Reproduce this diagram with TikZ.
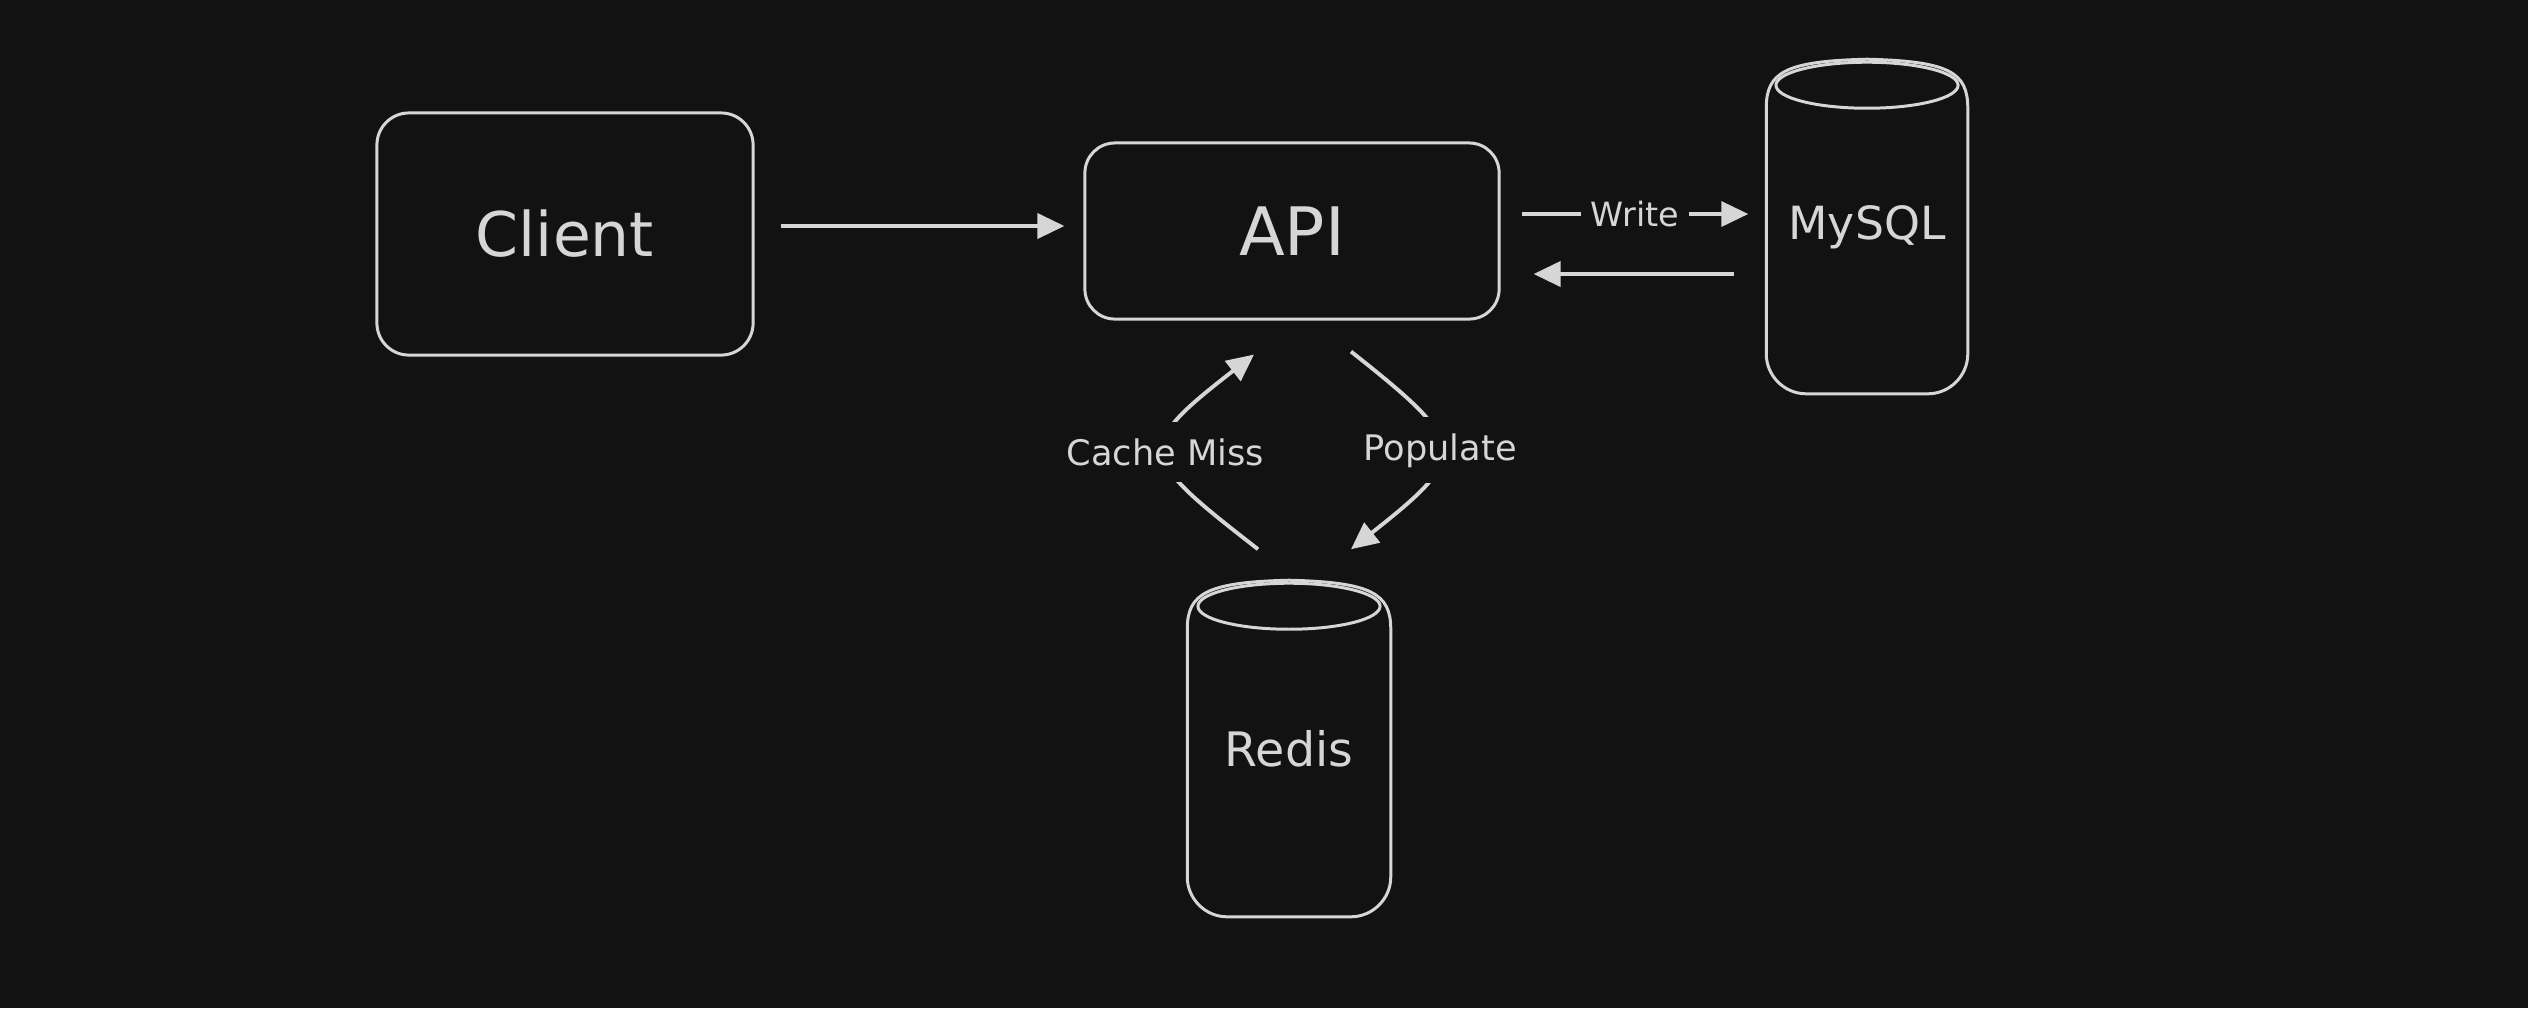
\documentclass[tikz,border=0pt]{standalone}
\usepackage{fontspec}
\setmainfont{DejaVu Sans}
\usetikzlibrary{arrows.meta,calc}
\definecolor{bg}{HTML}{121212}
\definecolor{ink}{HTML}{D6D6D6}
\newcommand{\cylshape}[1]{%
  \draw[cylline] ($(#1.north west)+(0,48)$) .. controls +(0,-36) and +(-82,2) .. ($(#1.north)+(0,-1)$)
    .. controls +(82,2) and +(0,-36) .. ($(#1.north east)+(0,48)$)
    -- ($(#1.south east)+(0,-40)$) .. controls +(0,22) and +(22,0) .. ($(#1.south east)+(-40,0)$)
    -- ($(#1.south west)+(40,0)$) .. controls +(-22,0) and +(0,22) .. ($(#1.south west)+(0,-40)$)
    -- cycle;
  \draw[cylline] ([yshift=-0.25cm]#1.north) ellipse [x radius=0.91cm, y radius=0.23cm];
}
\begin{document}
\begin{tikzpicture}[x=0.01cm,y=-0.01cm,
  box/.style={draw=ink, line width=0.85pt, rounded corners=0.32cm, text=ink},
  cyl/.style={text=ink, minimum width=2.0cm, minimum height=3.32cm},
  cylline/.style={draw=ink, line width=0.85pt},
  conn/.style={draw=ink, line width=1.1pt, -{Triangle[length=0.27cm,width=0.25cm]}},
  lbl/.style={fill=bg, text=ink, font=\fontsize{10}{12}\selectfont, inner xsep=0.1cm, inner ysep=0.16cm}
]
\fill[bg] (0,0) rectangle (2528,1008);
\useasboundingbox (0,0) rectangle (2528,1008);

\node[box, minimum width=3.76cm, minimum height=2.42cm, font=\fontsize{17.5}{20}\selectfont] (client) at (565,234) {Client};
\node[box, minimum width=4.14cm, minimum height=1.76cm, rounded corners=0.3cm, font=\fontsize{19}{22}\selectfont] (api) at (1292,231) {API};
\node[cyl, font=\fontsize{13}{16}\selectfont] (mysql) at (1867,227) {MySQL};
\node[cyl, minimum width=2.02cm, minimum height=3.34cm, font=\fontsize{13.5}{16}\selectfont] (redis) at (1289,749) {Redis};

% cylinder outlines
\cylshape{mysql}
\cylshape{redis}

% connectors
\draw[conn] ($(client.east)+(26,-8)$) -- ($(api.west)+(-19,-5)$);
\draw[conn] ($(api.east)+(21,-17)$) -- node[lbl, inner ysep=0.06cm, font=\fontsize{9.5}{12}\selectfont] {Write} ($(mysql.west)+(-18,-13)$);
\draw[conn] ($(mysql.west)+(-32,47)$) -- ($(api.east)+(33,43)$);
\draw[conn] ($(redis.north)+(-31,-32)$) .. controls +(-121,-94) and +(-121,94) .. node[lbl, pos=0.5] {Cache Miss} ($(api.south)+(-38,34)$);
\draw[conn] ($(api.south)+(59,31)$) .. controls +(119,94) and +(119,-94) .. node[lbl, pos=0.5] {Populate} ($(redis.north)+(62,-32)$);
\end{tikzpicture}
\end{document}
